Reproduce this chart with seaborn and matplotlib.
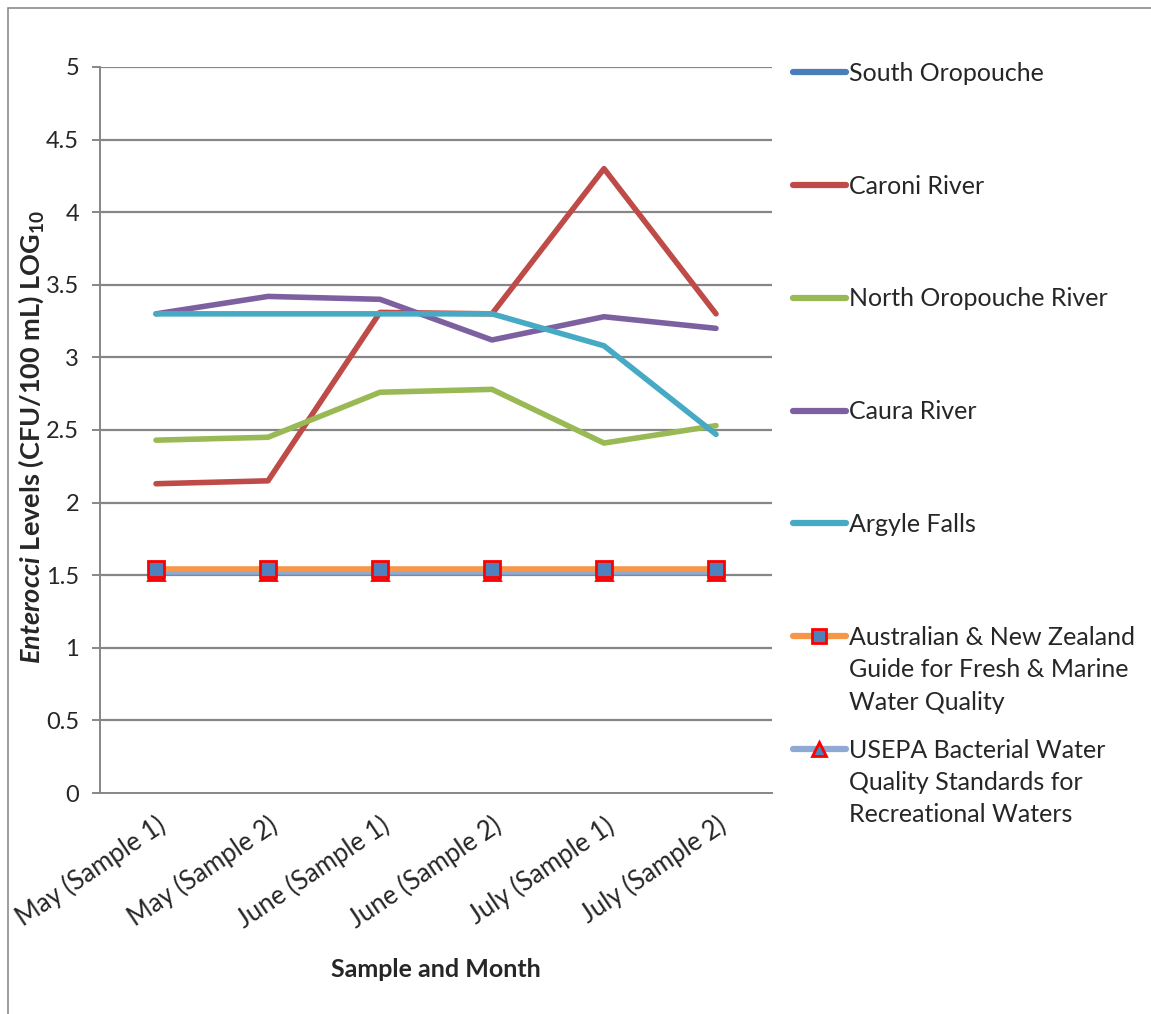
import numpy as np
import pandas as pd
import matplotlib
matplotlib.use("Agg")
import matplotlib.pyplot as plt
from matplotlib.lines import Line2D
from matplotlib.patches import Rectangle
import seaborn as sns

# ---- data ----
samples = ["May (Sample 1)", "May (Sample 2)", "June (Sample 1)",
           "June (Sample 2)", "July (Sample 1)", "July (Sample 2)"]
south_oropouche = [np.nan, np.nan, np.nan, np.nan, np.nan, np.nan]
caroni_river = [2.13, 2.15, 3.31, 3.30, 4.30, 3.30]
north_oropouche = [2.43, 2.45, 2.76, 2.78, 2.41, 2.53]
caura_river = [3.30, 3.42, 3.40, 3.12, 3.28, 3.20]
argyle_falls = [3.30, 3.30, 3.30, 3.30, 3.08, 2.47]
anz_guide = [1.544, 1.544, 1.544, 1.544, 1.544, 1.544]
usepa_std = [1.519, 1.519, 1.519, 1.519, 1.519, 1.519]

series_names = ["South Oropouche", "Caroni River", "North Oropouche River",
                "Caura River", "Argyle Falls",
                "Australian & New Zealand\nGuide for Fresh & Marine\nWater Quality",
                "USEPA Bacterial Water\nQuality Standards for\nRecreational Waters"]
series_values = [south_oropouche, caroni_river, north_oropouche, caura_river,
                 argyle_falls, anz_guide, usepa_std]

colors = ["#4A7EBB", "#BE4B48", "#98B954", "#7D60A0", "#46AAC5", "#F79646", "#8EA9D4"]
markers = [None, None, None, None, None, "s", "^"]

df = pd.DataFrame({
    "sample": np.tile(samples, len(series_names)),
    "pos": np.tile(np.arange(len(samples)), len(series_names)),
    "series": np.repeat(series_names, len(samples)),
    "value": np.concatenate(series_values),
})

sns.set_theme(style="white")
plt.rcParams["font.family"] = ["Lato", "DejaVu Sans"]
plt.rcParams["mathtext.fontset"] = "custom"
plt.rcParams["mathtext.rm"] = "Lato"
plt.rcParams["mathtext.bf"] = "Lato:bold"
plt.rcParams["mathtext.bfit"] = "Lato:italic:bold"
plt.rcParams["mathtext.it"] = "Lato:italic"

W, H = 1151, 1014
fig = plt.figure(figsize=(W / 100, H / 100), dpi=100)
ax = fig.add_axes([100 / W, 1 - 793 / H, 672 / W, 726 / H])

grid_col = "#868686"
for y in np.arange(0.5, 5.01, 0.5):
    ax.axhline(y, color=grid_col, lw=1.6, zorder=0)

# Draw order: guidelines first (orange on top of blue), then rivers
draw_order = [6, 5, 0, 1, 2, 3, 4]
for i in draw_order:
    sub = df[df["series"] == series_names[i]]
    if sub["value"].isna().all():
        continue
    kw = {}
    if markers[i] is not None:
        kw = dict(marker=markers[i], markersize=11, markerfacecolor="#4F81BD",
                  markeredgecolor="#FF0000", markeredgewidth=2.0)
    sns.lineplot(data=sub, x="pos", y="value", ax=ax, color=colors[i],
                 linewidth=4, legend=False, sort=False,
                 solid_capstyle="round", solid_joinstyle="round", zorder=3, **kw)

ax.set_xlim(-0.5, 5.5)
ax.set_ylim(0, 5)
ax.set_yticks(np.arange(0, 5.01, 0.5))
ax.set_yticklabels(["0", "0.5", "1", "1.5", "2", "2.5", "3", "3.5", "4", "4.5", "5"],
                   fontsize=17)
ax.set_xticks(np.arange(len(samples)))
ax.set_xticklabels(samples, rotation=34, ha="right", rotation_mode="anchor",
                   fontsize=18.5)
ax.set_xticks(np.arange(-0.5, 5.51, 1), minor=True)
ax.tick_params(axis="x", which="major", length=0, pad=14)
ax.tick_params(axis="x", which="minor", length=6, width=1.4, color=grid_col)
ax.tick_params(axis="y", length=6, width=1.4, color=grid_col, pad=9, left=True)

for s in ["top", "right"]:
    ax.spines[s].set_visible(False)
for s in ["left", "bottom"]:
    ax.spines[s].set_color(grid_col)
    ax.spines[s].set_linewidth(1.4)

ax.set_xlabel("Sample and Month", fontsize=18, fontweight="bold", labelpad=18)
ax.set_ylabel(r"$\mathbfit{Enterocci}$ Levels (CFU/100 mL) LOG$_{\mathbf{10}}$",
              fontsize=19.5, fontweight="bold")
ax.yaxis.set_label_coords(-0.08, 0.49)

# legend: first line of each label, remaining lines set underneath
handles = []
for i in range(len(series_names)):
    if markers[i] is None:
        h = Line2D([], [], color=colors[i], lw=4.5, solid_capstyle="round")
    else:
        h = Line2D([], [], color=colors[i], lw=4.5, solid_capstyle="round",
                   marker=markers[i], markersize=10, markerfacecolor="#4F81BD",
                   markeredgecolor="#FF0000", markeredgewidth=2.0)
    handles.append(h)
first_lines = [n.split("\n")[0] for n in series_names]
fs_leg = 18
leg = fig.legend(handles, first_lines, loc="upper left",
                 bbox_to_anchor=(793 / W, 1 - 62 / H), frameon=False,
                 fontsize=fs_leg, handlelength=2.1, handletextpad=0.15,
                 labelspacing=3.59, borderaxespad=0, borderpad=0)

fig.canvas.draw()
renderer = fig.canvas.get_renderer()
inv = fig.transFigure.inverted()
for txt, name in zip(leg.get_texts(), series_names):
    rest = name.split("\n")[1:]
    if not rest:
        continue
    bb = txt.get_window_extent(renderer)
    x0, y0 = inv.transform((bb.x0, bb.y0))
    for k, line in enumerate(rest):
        fig.text(x0, y0 - (k + 1) * 32.5 / H, line, fontsize=fs_leg,
                 ha="left", va="bottom")

# chart area outline
fig.patches.append(Rectangle((8 / W, -0.1), 1.2, 1 - 8 / H + 0.1,
                             transform=fig.transFigure, fill=False,
                             edgecolor="#8C8C8C", lw=1.2))

fig.savefig("out.png", dpi=100)
